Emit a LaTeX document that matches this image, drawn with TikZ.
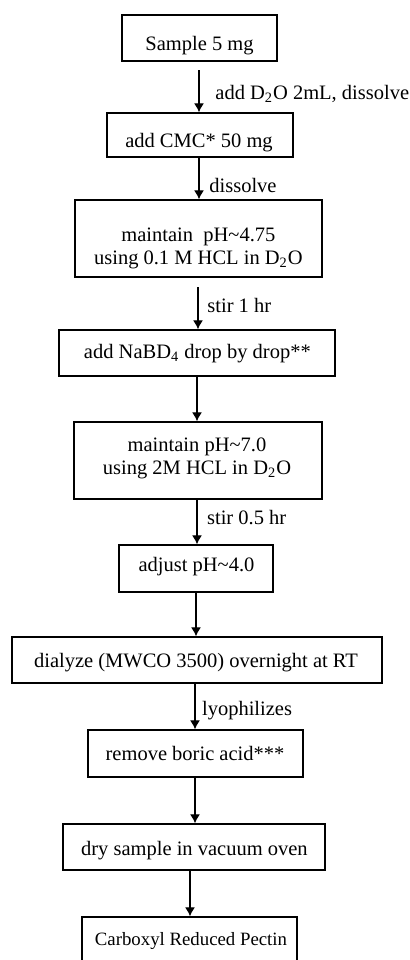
\documentclass[tikz,border=0pt]{standalone}
\usepackage{fontspec}
\setmainfont{Liberation Serif}
\usetikzlibrary{arrows.meta}
\newcommand\fsmain{\fontsize{10.25pt}{11.5pt}\selectfont}
\newcommand\fssmall{\fontsize{9.4pt}{11pt}\selectfont}
\newcommand\tld{\textasciitilde}
\tikzset{
  box/.style={draw, line width=0.7pt, inner sep=0pt},
  bx/.style 2 args={box, minimum width=#1*0.5pt, minimum height=#2*0.5pt},
  txt/.style={font=\fsmain, inner sep=0pt, anchor=base},
  txtml/.style={font=\fsmain, inner sep=0pt, align=center, anchor=center},
  lbl/.style={font=\fsmain, inner sep=0pt, anchor=base west},
  arr/.style={-{Latex[length=4.5pt,width=5pt]}, line width=0.6pt}
}
\begin{document}
\begin{tikzpicture}[x=0.5pt,y=-0.5pt]
\useasboundingbox (0,0) rectangle (410,960);
\clip (0,0) rectangle (410,960);
% boxes
\node[bx={155}{46}]  (b1)  at (199.5,38)  {};
\node[bx={186}{44}]  (b2)  at (200,135)   {};
\node[bx={247}{77}]  (b3)  at (198.5,238.5) {};
\node[bx={276}{46}]  (b4)  at (197,353)   {};
\node[bx={248}{77}]  (b5)  at (198,460.5) {};
\node[bx={154}{47}]  (b6)  at (196,568.5) {};
\node[bx={370}{46}]  (b7)  at (197,660)   {};
\node[bx={215}{47}]  (b8)  at (195.5,753.5) {};
\node[bx={262}{46}]  (b9)  at (194,847)   {};
\node[bx={215}{83}]  (b10) at (189.5,958.5) {};
% box texts
\node[txt] (t1) at (199.5,50) {Sample 5 mg};
\node[txt] (t2) at (199,147) {add CMC* 50 mg};
\node[txtml] (t3) at (198.4,248.4) {maintain\ \ pH\tld4.75\\using 0.1 M HCL in D\textsubscript{2}O};
\node[txt] (t4) at (197.4,358) {add NaBD\textsubscript{4} drop by drop**};
\node[txtml] (t5) at (197,458.3) {maintain pH\tld7.0\\using 2M HCL in D\textsubscript{2}O};
\node[txt] (t6) at (196.5,571.7) {adjust pH\tld4.0};
\node[txt] (t7) at (196,667) {dialyze (MWCO 3500) overnight at RT};
\node[txt] (t8) at (195,760) {remove boric acid***};
\node[txt] (t9) at (194.4,855) {dry sample in vacuum oven};
\node[txt, font=\fssmall] (t10) at (191,945) {Carboxyl Reduced Pectin};
% arrow x positions
\coordinate (s1) at (199,70);
\coordinate (x2) at (199,0);
\coordinate (s3) at (198,287);
\coordinate (x4) at (197,0);
\coordinate (x5) at (197,0);
\coordinate (x6) at (196,0);
\coordinate (x7) at (195,0);
\coordinate (x8) at (195,0);
\coordinate (x9) at (190,0);
% arrows
\draw[arr] (s1) -- (b2.north -| s1);
\draw[arr] (b2.south -| x2) -- (b3.north -| x2);
\draw[arr] (s3) -- (b4.north -| s3);
\draw[arr] (b4.south -| x4) -- (b5.north -| x4);
\draw[arr] (b5.south -| x5) -- (b6.north -| x5);
\draw[arr] (b6.south -| x6) -- (b7.north -| x6);
\draw[arr] (b7.south -| x7) -- (b8.north -| x7);
\draw[arr] (b8.south -| x8) -- (b9.north -| x8);
\draw[arr] (b9.south -| x9) -- (b10.north -| x9);
% arrow labels
\node[lbl] (l1) at (215,99) {add D\textsubscript{2}O 2mL, dissolve};
\node[lbl] (l2) at (209,192.7) {dissolve};
\node[lbl] (l3) at (207,312) {stir 1 hr};
\node[lbl] (l5) at (206.7,524) {stir 0.5 hr};
\node[lbl] (l7) at (201.7,715) {lyophilizes};
\end{tikzpicture}
\end{document}
